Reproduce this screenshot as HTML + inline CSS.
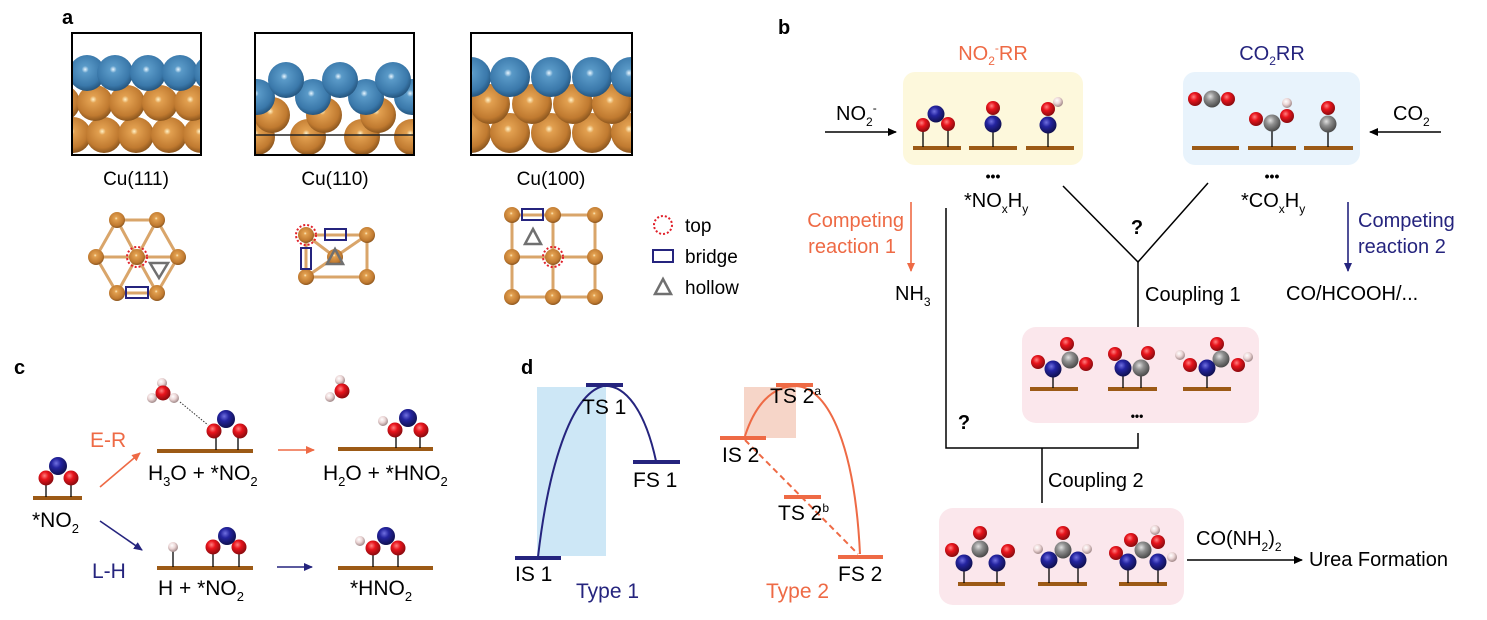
<!DOCTYPE html>
<html><head><meta charset="utf-8"><style>
html,body{margin:0;padding:0;background:#fff;}
svg{display:block;font-family:"Liberation Sans",Arial,sans-serif;}
</style></head><body>
<svg width="1487" height="620" viewBox="0 0 1487 620" xmlns="http://www.w3.org/2000/svg">
<defs>
<radialGradient id="gO" cx="0.4" cy="0.35" r="0.65"><stop offset="0" stop-color="#ff8080"/><stop offset="0.4" stop-color="#e8141c"/><stop offset="1" stop-color="#8a0a0e"/></radialGradient>
<radialGradient id="gN" cx="0.4" cy="0.35" r="0.65"><stop offset="0" stop-color="#7070e0"/><stop offset="0.4" stop-color="#2424a0"/><stop offset="1" stop-color="#101050"/></radialGradient>
<radialGradient id="gC" cx="0.4" cy="0.35" r="0.65"><stop offset="0" stop-color="#e0e0e0"/><stop offset="0.4" stop-color="#909090"/><stop offset="1" stop-color="#4a4a4a"/></radialGradient>
<radialGradient id="gH" cx="0.4" cy="0.35" r="0.65"><stop offset="0" stop-color="#ffffff"/><stop offset="0.5" stop-color="#ecd6d6"/><stop offset="1" stop-color="#a08888"/></radialGradient>
<radialGradient id="gCu" cx="0.45" cy="0.4" r="0.65"><stop offset="0" stop-color="#fff2c8"/><stop offset="0.15" stop-color="#e2a050"/><stop offset="0.7" stop-color="#c07a30"/><stop offset="1" stop-color="#7a4a18"/></radialGradient>
<radialGradient id="gBl" cx="0.45" cy="0.4" r="0.65"><stop offset="0" stop-color="#e8f6ff"/><stop offset="0.15" stop-color="#5a9ac8"/><stop offset="0.7" stop-color="#3a78aa"/><stop offset="1" stop-color="#1e4a70"/></radialGradient>
<clipPath id="c1"><rect x="72" y="33" width="129" height="122"/></clipPath>
<clipPath id="c2"><rect x="255" y="33" width="159" height="122"/></clipPath>
<clipPath id="c3"><rect x="471" y="33" width="161" height="122"/></clipPath>
<marker id="ak" markerWidth="10" markerHeight="10" refX="8" refY="5" orient="auto" markerUnits="userSpaceOnUse"><path d="M0,1 L9,5 L0,9 Z" fill="#000"/></marker>
<marker id="ao" markerWidth="10" markerHeight="10" refX="8" refY="5" orient="auto" markerUnits="userSpaceOnUse"><path d="M0,1 L9,5 L0,9 Z" fill="#ee6a45"/></marker>
<marker id="ab" markerWidth="10" markerHeight="10" refX="8" refY="5" orient="auto" markerUnits="userSpaceOnUse"><path d="M0,1 L9,5 L0,9 Z" fill="#25247e"/></marker>
</defs>

<!-- ===== Panel a ===== -->
<text x="62" y="24" font-size="20" font-weight="bold">a</text>
<g clip-path="url(#c1)">
 <g fill="url(#gCu)">
  <circle cx="73" cy="135" r="18"/><circle cx="104" cy="135" r="18"/><circle cx="136" cy="135" r="18"/><circle cx="169" cy="135" r="18"/><circle cx="201" cy="135" r="18"/>
  <circle cx="62" cy="103" r="18"/><circle cx="95" cy="103" r="18"/><circle cx="127" cy="103" r="18"/><circle cx="160" cy="103" r="18"/><circle cx="192" cy="103" r="18"/>
 </g>
 <g fill="url(#gBl)">
  <circle cx="54" cy="73" r="18"/><circle cx="87" cy="73" r="18"/><circle cx="115" cy="73" r="18"/><circle cx="148" cy="73" r="18"/><circle cx="180" cy="73" r="18"/><circle cx="212" cy="73" r="18"/>
 </g>
</g>
<rect x="72" y="33" width="129" height="122" fill="none" stroke="#000" stroke-width="2"/>
<g clip-path="url(#c2)">
 <g fill="url(#gCu)">
  <circle cx="257" cy="137" r="18"/><circle cx="308" cy="137" r="18"/><circle cx="362" cy="137" r="18"/><circle cx="412" cy="137" r="18"/>
  <circle cx="272" cy="115" r="18"/><circle cx="324" cy="115" r="18"/><circle cx="378" cy="115" r="18"/>
 </g>
 <line x1="255" y1="135" x2="414" y2="135" stroke="#222" stroke-width="1.5"/>
 <g fill="url(#gBl)">
  <circle cx="257" cy="97" r="18"/><circle cx="313" cy="97" r="18"/><circle cx="366" cy="97" r="18"/><circle cx="412" cy="97" r="18"/>
  <circle cx="286" cy="80" r="18"/><circle cx="340" cy="80" r="18"/><circle cx="393" cy="80" r="18"/>
 </g>
</g>
<rect x="255" y="33" width="159" height="122" fill="none" stroke="#000" stroke-width="2"/>
<g clip-path="url(#c3)">
 <g fill="url(#gCu)">
  <circle cx="471" cy="133" r="20"/><circle cx="510" cy="133" r="20"/><circle cx="551" cy="133" r="20"/><circle cx="592" cy="133" r="20"/><circle cx="631" cy="133" r="20"/>
  <circle cx="490" cy="104" r="20"/><circle cx="532" cy="104" r="20"/><circle cx="573" cy="104" r="20"/><circle cx="612" cy="104" r="20"/>
 </g>
 <g fill="url(#gBl)">
  <circle cx="471" cy="77" r="20"/><circle cx="510" cy="77" r="20"/><circle cx="551" cy="77" r="20"/><circle cx="592" cy="77" r="20"/><circle cx="631" cy="77" r="20"/>
 </g>
</g>
<rect x="471" y="33" width="161" height="122" fill="none" stroke="#000" stroke-width="2"/>
<g font-size="19" text-anchor="middle">
 <text x="136" y="185">Cu(111)</text><text x="335" y="185">Cu(110)</text><text x="551" y="185">Cu(100)</text>
</g>
<!-- lattice 111 -->
<g stroke="#d9a56a" stroke-width="3">
 <line x1="117" y1="220" x2="157" y2="220"/><line x1="96" y1="257" x2="178" y2="257"/><line x1="117" y1="293" x2="157" y2="293"/>
 <line x1="117" y1="220" x2="96" y2="257"/><line x1="117" y1="220" x2="137" y2="257"/><line x1="157" y1="220" x2="137" y2="257"/><line x1="157" y1="220" x2="178" y2="257"/>
 <line x1="96" y1="257" x2="117" y2="293"/><line x1="137" y1="257" x2="117" y2="293"/><line x1="137" y1="257" x2="157" y2="293"/><line x1="178" y1="257" x2="157" y2="293"/>
</g>
<g fill="url(#gCu)"><circle cx="117" cy="220" r="8"/><circle cx="157" cy="220" r="8"/><circle cx="96" cy="257" r="8"/><circle cx="137" cy="257" r="8"/><circle cx="178" cy="257" r="8"/><circle cx="117" cy="293" r="8"/><circle cx="157" cy="293" r="8"/></g>
<circle cx="137" cy="257" r="10" fill="none" stroke="#e0202a" stroke-width="2" stroke-dasharray="2,2"/>
<path d="M150,263 L168,263 L159,278 Z" fill="none" stroke="#707070" stroke-width="2.5"/>
<rect x="126" y="287" width="22" height="11" fill="none" stroke="#25247e" stroke-width="2"/>
<!-- lattice 110 -->
<g stroke="#d9a56a" stroke-width="3">
 <rect x="306" y="235" width="61" height="42" fill="none"/>
 <line x1="306" y1="235" x2="335" y2="257"/><line x1="367" y1="235" x2="335" y2="257"/><line x1="306" y1="277" x2="335" y2="257"/>
</g>
<g fill="url(#gCu)"><circle cx="306" cy="235" r="8"/><circle cx="367" cy="235" r="8"/><circle cx="306" cy="277" r="8"/><circle cx="367" cy="277" r="8"/><circle cx="335" cy="257" r="8"/></g>
<circle cx="306" cy="235" r="10" fill="none" stroke="#e0202a" stroke-width="2" stroke-dasharray="2,2"/>
<rect x="325" y="229" width="21" height="11" fill="none" stroke="#25247e" stroke-width="2"/>
<rect x="301" y="248" width="10" height="21" fill="none" stroke="#25247e" stroke-width="2"/>
<path d="M335,249 L343,264 L327,264 Z" fill="none" stroke="#707070" stroke-width="2.5"/>
<!-- lattice 100 -->
<g stroke="#d9a56a" stroke-width="3">
 <line x1="512" y1="215" x2="595" y2="215"/><line x1="512" y1="257" x2="595" y2="257"/><line x1="512" y1="297" x2="595" y2="297"/>
 <line x1="512" y1="215" x2="512" y2="297"/><line x1="553" y1="215" x2="553" y2="297"/><line x1="595" y1="215" x2="595" y2="297"/>
</g>
<g fill="url(#gCu)">
 <circle cx="512" cy="215" r="8"/><circle cx="553" cy="215" r="8"/><circle cx="595" cy="215" r="8"/>
 <circle cx="512" cy="257" r="8"/><circle cx="553" cy="257" r="8"/><circle cx="595" cy="257" r="8"/>
 <circle cx="512" cy="297" r="8"/><circle cx="553" cy="297" r="8"/><circle cx="595" cy="297" r="8"/>
</g>
<rect x="522" y="209" width="21" height="11" fill="none" stroke="#25247e" stroke-width="2"/>
<path d="M533,229 L541,244 L525,244 Z" fill="none" stroke="#707070" stroke-width="2.5"/>
<circle cx="553" cy="257" r="10" fill="none" stroke="#e0202a" stroke-width="2" stroke-dasharray="2,2"/>
<!-- legend -->
<circle cx="663" cy="225" r="9" fill="none" stroke="#e0202a" stroke-width="2" stroke-dasharray="2,2"/>
<rect x="653" y="250" width="20" height="12" fill="none" stroke="#25247e" stroke-width="2"/>
<path d="M663,279 L671,294 L655,294 Z" fill="none" stroke="#707070" stroke-width="2.5"/>
<g font-size="19"><text x="685" y="232">top</text><text x="685" y="263">bridge</text><text x="685" y="294">hollow</text></g>

<!-- ===== Panel b ===== -->
<text x="778" y="34" font-size="20" font-weight="bold">b</text>
<text x="993" y="60" font-size="20" fill="#ee6a45" text-anchor="middle">NO<tspan font-size="12" dy="5">2</tspan><tspan font-size="12" dy="-13">-</tspan><tspan dy="8">RR</tspan></text>
<text x="1272" y="60" font-size="20" fill="#25247e" text-anchor="middle">CO<tspan font-size="12" dy="5">2</tspan><tspan dy="-5">RR</tspan></text>
<rect x="903" y="72" width="180" height="93" rx="12" fill="#fdf8dc"/>
<rect x="1183" y="72" width="177" height="93" rx="12" fill="#e8f3fc"/>
<g fill="#9c5a16">
 <rect x="913" y="146" width="48" height="4"/><rect x="969" y="146" width="48" height="4"/><rect x="1026" y="146" width="48" height="4"/>
 <rect x="1192" y="146" width="47" height="4"/><rect x="1248" y="146" width="48" height="4"/><rect x="1304" y="146" width="49" height="4"/>
</g>
<g stroke="#000" stroke-width="1.3">
 <line x1="923" y1="125" x2="923" y2="147"/><line x1="948" y1="125" x2="948" y2="147"/>
 <line x1="993" y1="124" x2="993" y2="147"/><line x1="1048" y1="125" x2="1048" y2="147"/>
 <line x1="1272" y1="123" x2="1272" y2="147"/><line x1="1328" y1="124" x2="1328" y2="147"/>
</g>
<circle cx="923" cy="125" r="7" fill="url(#gO)"/><circle cx="948" cy="124" r="7" fill="url(#gO)"/><circle cx="936" cy="114" r="8.5" fill="url(#gN)"/>
<circle cx="993" cy="108" r="7" fill="url(#gO)"/><circle cx="993" cy="124" r="8.5" fill="url(#gN)"/>
<circle cx="1058" cy="102" r="5" fill="url(#gH)"/><circle cx="1048" cy="109" r="7" fill="url(#gO)"/><circle cx="1048" cy="125" r="8.5" fill="url(#gN)"/>
<circle cx="1195" cy="99" r="7" fill="url(#gO)"/><circle cx="1228" cy="99" r="7" fill="url(#gO)"/><circle cx="1212" cy="99" r="8.5" fill="url(#gC)"/>
<circle cx="1287" cy="103" r="5" fill="url(#gH)"/><circle cx="1256" cy="119" r="7" fill="url(#gO)"/><circle cx="1287" cy="116" r="7" fill="url(#gO)"/><circle cx="1272" cy="123" r="8.5" fill="url(#gC)"/>
<circle cx="1328" cy="108" r="7" fill="url(#gO)"/><circle cx="1328" cy="124" r="8.5" fill="url(#gC)"/>
<!-- inputs -->
<line x1="825" y1="132" x2="896" y2="132" stroke="#000" stroke-width="1.5" marker-end="url(#ak)"/>
<text x="836" y="120" font-size="20">NO<tspan font-size="12" dy="6">2</tspan><tspan font-size="12" dy="-14">-</tspan></text>
<line x1="1441" y1="132" x2="1370" y2="132" stroke="#000" stroke-width="1.5" marker-end="url(#ak)"/>
<text x="1393" y="120" font-size="20">CO<tspan font-size="12" dy="6">2</tspan></text>
<!-- intermediates labels -->
<text x="993" y="181" font-size="14" font-weight="bold" text-anchor="middle">•••</text>
<text x="964" y="207" font-size="20">*NO<tspan font-size="12" dy="6">x</tspan><tspan dy="-6">H</tspan><tspan font-size="12" dy="6">y</tspan></text>
<text x="1117" y="181" font-size="14" font-weight="bold" text-anchor="middle" dx="155">•••</text>
<text x="1241" y="207" font-size="20">*CO<tspan font-size="12" dy="6">x</tspan><tspan dy="-6">H</tspan><tspan font-size="12" dy="6">y</tspan></text>
<!-- V connector -->
<g stroke="#000" stroke-width="1.5" fill="none">
 <polyline points="1063,186 1138,262 1208,183"/>
 <line x1="1138" y1="262" x2="1138" y2="327"/>
 <polyline points="946,208 946,448 1138,448 1138,433"/>
 <line x1="1042" y1="448" x2="1042" y2="503"/>
</g>
<text x="1137" y="234" font-size="20" font-weight="bold" text-anchor="middle">?</text>
<text x="964" y="429" font-size="20" font-weight="bold" text-anchor="middle">?</text>
<text x="1145" y="301" font-size="20">Coupling 1</text>
<text x="1048" y="487" font-size="20">Coupling 2</text>
<!-- competing -->
<line x1="911" y1="202" x2="911" y2="271" stroke="#ee6a45" stroke-width="1.6" marker-end="url(#ao)"/>
<g font-size="20" fill="#ee6a45" text-anchor="end"><text x="904" y="227">Competing</text><text x="896" y="253">reaction 1</text></g>
<text x="895" y="300" font-size="20">NH<tspan font-size="12" dy="6">3</tspan></text>
<line x1="1348" y1="202" x2="1348" y2="271" stroke="#25247e" stroke-width="1.6" marker-end="url(#ab)"/>
<g font-size="20" fill="#25247e"><text x="1358" y="227">Competing</text><text x="1358" y="253">reaction 2</text></g>
<text x="1286" y="300" font-size="20">CO/HCOOH/...</text>
<!-- pink box 1 -->
<rect x="1022" y="327" width="237" height="96" rx="14" fill="#fbe7ec"/>
<g fill="#9c5a16"><rect x="1030" y="387" width="48" height="4"/><rect x="1108" y="387" width="49" height="4"/><rect x="1183" y="387" width="48" height="4"/></g>
<g stroke="#000" stroke-width="1.3"><line x1="1053" y1="369" x2="1053" y2="388"/><line x1="1123" y1="368" x2="1123" y2="388"/><line x1="1141" y1="368" x2="1141" y2="388"/><line x1="1207" y1="368" x2="1207" y2="388"/></g>
<circle cx="1038" cy="362" r="7" fill="url(#gO)"/><circle cx="1067" cy="344" r="7" fill="url(#gO)"/><circle cx="1086" cy="364" r="7" fill="url(#gO)"/><circle cx="1070" cy="360" r="8.5" fill="url(#gC)"/><circle cx="1053" cy="369" r="8.5" fill="url(#gN)"/>
<circle cx="1115" cy="354" r="7" fill="url(#gO)"/><circle cx="1148" cy="353" r="7" fill="url(#gO)"/><circle cx="1141" cy="368" r="8.5" fill="url(#gC)"/><circle cx="1123" cy="368" r="8.5" fill="url(#gN)"/>
<circle cx="1180" cy="355" r="5" fill="url(#gH)"/><circle cx="1248" cy="357" r="5" fill="url(#gH)"/><circle cx="1217" cy="344" r="7" fill="url(#gO)"/><circle cx="1190" cy="365" r="7" fill="url(#gO)"/><circle cx="1238" cy="365" r="7" fill="url(#gO)"/><circle cx="1221" cy="359" r="8.5" fill="url(#gC)"/><circle cx="1207" cy="368" r="8.5" fill="url(#gN)"/>
<text x="1137" y="420" font-size="12" font-weight="bold" text-anchor="middle">•••</text>
<!-- pink box 2 -->
<rect x="939" y="508" width="245" height="97" rx="14" fill="#fbe7ec"/>
<g fill="#9c5a16"><rect x="958" y="582" width="47" height="4"/><rect x="1038" y="582" width="49" height="4"/><rect x="1119" y="582" width="48" height="4"/></g>
<g stroke="#000" stroke-width="1.3"><line x1="964" y1="563" x2="964" y2="583"/><line x1="997" y1="563" x2="997" y2="583"/><line x1="1049" y1="560" x2="1049" y2="583"/><line x1="1078" y1="560" x2="1078" y2="583"/><line x1="1128" y1="562" x2="1128" y2="583"/><line x1="1158" y1="562" x2="1158" y2="583"/></g>
<circle cx="952" cy="550" r="7" fill="url(#gO)"/><circle cx="1008" cy="551" r="7" fill="url(#gO)"/><circle cx="980" cy="533" r="7" fill="url(#gO)"/><circle cx="980" cy="549" r="8.5" fill="url(#gC)"/><circle cx="964" cy="563" r="8.5" fill="url(#gN)"/><circle cx="997" cy="563" r="8.5" fill="url(#gN)"/>
<circle cx="1038" cy="549" r="5" fill="url(#gH)"/><circle cx="1087" cy="549" r="5" fill="url(#gH)"/><circle cx="1063" cy="533" r="7" fill="url(#gO)"/><circle cx="1063" cy="550" r="8.5" fill="url(#gC)"/><circle cx="1049" cy="560" r="8.5" fill="url(#gN)"/><circle cx="1078" cy="560" r="8.5" fill="url(#gN)"/>
<circle cx="1155" cy="530" r="5" fill="url(#gH)"/><circle cx="1172" cy="557" r="5" fill="url(#gH)"/><circle cx="1116" cy="553" r="7" fill="url(#gO)"/><circle cx="1131" cy="540" r="7" fill="url(#gO)"/><circle cx="1158" cy="542" r="7" fill="url(#gO)"/><circle cx="1143" cy="550" r="8.5" fill="url(#gC)"/><circle cx="1128" cy="562" r="8.5" fill="url(#gN)"/><circle cx="1158" cy="562" r="8.5" fill="url(#gN)"/>
<line x1="1187" y1="560" x2="1302" y2="560" stroke="#000" stroke-width="1.5" marker-end="url(#ak)"/>
<text x="1196" y="545" font-size="20">CO(NH<tspan font-size="12" dy="6">2</tspan><tspan dy="-6">)</tspan><tspan font-size="12" dy="6">2</tspan></text>
<text x="1309" y="566" font-size="20">Urea Formation</text>

<!-- ===== Panel c ===== -->
<text x="14" y="374" font-size="20" font-weight="bold">c</text>
<g fill="#9c5a16">
 <rect x="33" y="496" width="49" height="4"/><rect x="157" y="449" width="96" height="4"/><rect x="338" y="447" width="95" height="4"/>
 <rect x="157" y="566" width="96" height="4"/><rect x="338" y="566" width="95" height="4"/>
</g>
<g stroke="#000" stroke-width="1.3">
 <line x1="46" y1="478" x2="46" y2="497"/><line x1="71" y1="478" x2="71" y2="497"/>
 <line x1="216" y1="431" x2="216" y2="450"/><line x1="238" y1="431" x2="238" y2="450"/>
 <line x1="396" y1="430" x2="396" y2="448"/><line x1="420" y1="430" x2="420" y2="448"/>
 <line x1="173" y1="547" x2="173" y2="567"/><line x1="213" y1="547" x2="213" y2="567"/><line x1="239" y1="547" x2="239" y2="567"/>
 <line x1="373" y1="548" x2="373" y2="567"/><line x1="398" y1="548" x2="398" y2="567"/>
</g>
<circle cx="46" cy="478" r="7.5" fill="url(#gO)"/><circle cx="71" cy="478" r="7.5" fill="url(#gO)"/><circle cx="58" cy="466" r="9" fill="url(#gN)"/>
<text x="32" y="527" font-size="21">*NO<tspan font-size="13" dy="6">2</tspan></text>
<text x="90" y="447" font-size="21" fill="#ee6a45">E-R</text>
<text x="92" y="578" font-size="21" fill="#25247e">L-H</text>
<line x1="100" y1="487" x2="140" y2="453" stroke="#ee6a45" stroke-width="1.6" marker-end="url(#ao)"/>
<line x1="100" y1="521" x2="142" y2="550" stroke="#25247e" stroke-width="1.6" marker-end="url(#ab)"/>
<!-- H3O + NO2 -->
<line x1="180" y1="402" x2="208" y2="425" stroke="#333" stroke-width="1" stroke-dasharray="1.5,1.5"/>
<circle cx="162" cy="383" r="5" fill="url(#gH)"/><circle cx="152" cy="398" r="5" fill="url(#gH)"/><circle cx="174" cy="398" r="5" fill="url(#gH)"/><circle cx="163" cy="393" r="7.5" fill="url(#gO)"/>
<circle cx="214" cy="431" r="7.5" fill="url(#gO)"/><circle cx="240" cy="431" r="7.5" fill="url(#gO)"/><circle cx="226" cy="419" r="9" fill="url(#gN)"/>
<text x="148" y="480" font-size="21">H<tspan font-size="13" dy="6">3</tspan><tspan dy="-6">O + *NO</tspan><tspan font-size="13" dy="6">2</tspan></text>
<line x1="278" y1="450" x2="314" y2="450" stroke="#ee6a45" stroke-width="1.6" marker-end="url(#ao)"/>
<circle cx="340" cy="380" r="5" fill="url(#gH)"/><circle cx="330" cy="397" r="5" fill="url(#gH)"/><circle cx="342" cy="391" r="7.5" fill="url(#gO)"/>
<circle cx="383" cy="421" r="5" fill="url(#gH)"/><circle cx="395" cy="430" r="7.5" fill="url(#gO)"/><circle cx="421" cy="430" r="7.5" fill="url(#gO)"/><circle cx="408" cy="418" r="9" fill="url(#gN)"/>
<text x="323" y="480" font-size="21">H<tspan font-size="13" dy="6">2</tspan><tspan dy="-6">O + *HNO</tspan><tspan font-size="13" dy="6">2</tspan></text>
<!-- bottom -->
<circle cx="173" cy="547" r="5" fill="url(#gH)"/><circle cx="213" cy="547" r="7.5" fill="url(#gO)"/><circle cx="239" cy="547" r="7.5" fill="url(#gO)"/><circle cx="227" cy="536" r="9" fill="url(#gN)"/>
<text x="158" y="595" font-size="21">H + *NO<tspan font-size="13" dy="6">2</tspan></text>
<line x1="277" y1="567" x2="312" y2="567" stroke="#25247e" stroke-width="1.6" marker-end="url(#ab)"/>
<circle cx="360" cy="541" r="5" fill="url(#gH)"/><circle cx="373" cy="548" r="7.5" fill="url(#gO)"/><circle cx="398" cy="548" r="7.5" fill="url(#gO)"/><circle cx="386" cy="536" r="9" fill="url(#gN)"/>
<text x="350" y="595" font-size="21">*HNO<tspan font-size="13" dy="6">2</tspan></text>

<!-- ===== Panel d ===== -->
<text x="521" y="374" font-size="20" font-weight="bold">d</text>
<rect x="537" y="387" width="69" height="169" fill="#cde7f6"/>
<rect x="744" y="387" width="52" height="51" fill="#f6d5c8"/>
<g stroke="#25247e" stroke-width="4">
 <line x1="586" y1="385" x2="623" y2="385"/><line x1="515" y1="558" x2="561" y2="558"/><line x1="633" y1="462" x2="680" y2="462"/>
</g>
<path d="M538,557 C548,470 570,395 603,386 C625,384 645,410 656,461" fill="none" stroke="#25247e" stroke-width="2"/>
<g stroke="#ee6a45" stroke-width="4">
 <line x1="776" y1="385" x2="813" y2="385"/><line x1="720" y1="438" x2="766" y2="438"/><line x1="784" y1="497" x2="821" y2="497"/><line x1="838" y1="557" x2="883" y2="557"/>
</g>
<path d="M745,436 C755,405 772,386 796,386 C830,388 855,450 860,554" fill="none" stroke="#ee6a45" stroke-width="2"/>
<line x1="745" y1="440" x2="858" y2="554" stroke="#ee6a45" stroke-width="2" stroke-dasharray="6,4"/>
<g font-size="21">
 <text x="582" y="414">TS 1</text><text x="633" y="487">FS 1</text><text x="515" y="581">IS 1</text>
 <text x="770" y="403">TS 2<tspan font-size="12" dy="-8">a</tspan></text>
 <text x="722" y="462">IS 2</text>
 <text x="778" y="520">TS 2<tspan font-size="12" dy="-8">b</tspan></text>
 <text x="838" y="581">FS 2</text>
</g>
<text x="576" y="598" font-size="21" fill="#25247e">Type 1</text>
<text x="766" y="598" font-size="21" fill="#ee6a45">Type 2</text>
</svg>
</body></html>
